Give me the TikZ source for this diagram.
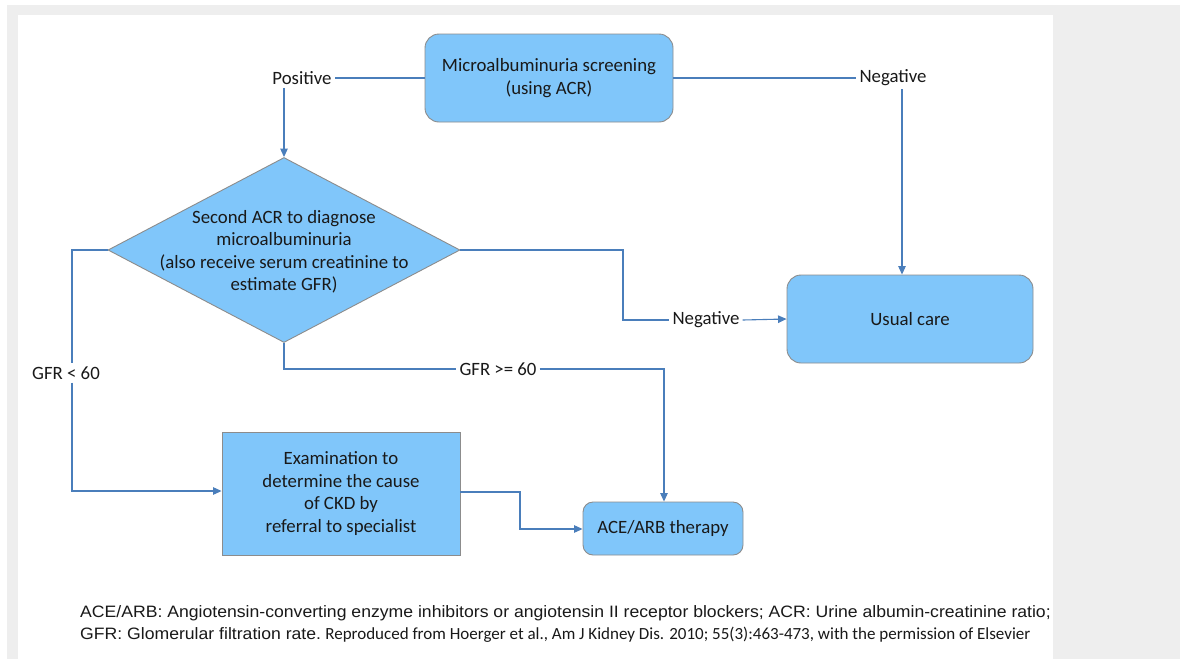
\documentclass[tikz,border=0pt]{standalone}
\usepackage{fontspec}
\usepackage{graphicx}
\setmainfont{Carlito}
\newfontfamily\arialf{Liberation Sans}
\usetikzlibrary{shapes.geometric,arrows.meta}
\definecolor{boxfill}{RGB}{128,198,250}
\definecolor{boxline}{RGB}{140,140,140}
\definecolor{conncol}{RGB}{74,126,187}
\definecolor{bggray}{RGB}{238,238,238}
\definecolor{txt}{RGB}{25,25,25}
\begin{document}
\begin{tikzpicture}[x=1pt,y=-1pt,
  box/.style={draw=boxline, fill=boxfill, line width=0.9pt, text=txt, align=center,
    font=\fontsize{18.8}{22.5}\selectfont, inner sep=0pt},
  rbox/.style={box, rounded corners=14pt},
  lbl/.style={text=txt, font=\fontsize{18.8}{22.5}\selectfont, inner sep=3pt},
  conn/.style={draw=conncol, line width=1.1pt},
  arr/.style={conn, -{Triangle[length=8.5pt,width=7.5pt]}}]
% background
\fill[white] (0,0) rectangle (1185,659);
\fill[bggray] (7,5) rectangle (1180,659);
\fill[white] (18,15) rectangle (1053,659);
\useasboundingbox (0,0) rectangle (1185,659);

% nodes
\node[rbox, minimum width=248pt, minimum height=88pt] (screen) at (549,78)
  {Microalbuminuria screening\\(using ACR)};
\node[box, diamond, minimum width=352pt, minimum height=185pt] (dia) at (284,250) {};
\node[text=txt, align=center, font=\fontsize{18.8}{22.5}\selectfont, inner sep=0pt] (diatext) at (284,252)
  {Second ACR to diagnose\\microalbuminuria\\(also receive serum creatinine to\\estimate GFR)};
\node[rbox, minimum width=246pt, minimum height=88pt] (usual) at (910,319) {Usual care};
\node[box, minimum width=238pt, minimum height=123pt] (exam) at (341,493.5)
  {Examination to\\determine the cause\\of CKD by\\referral to specialist};
\node[rbox, rounded corners=10pt, minimum width=160pt, minimum height=53pt] (ace) at (663,528.5)
  {ACE/ARB therapy};

% labels
\node[lbl] (pos) at (302,78) {Positive};
\node[lbl] (neg1) at (893,78) {Negative};
\node[lbl] (neg2) at (706,320) {Negative};
\node[lbl] (gfrhi) at (498,369) {GFR >= 60};
\node[lbl] (gfrlo) at (66,373) {GFR < 60};

\coordinate (c1) at (623,250);
\coordinate (c2) at (623,320);
\coordinate (c3) at (284,369);
\coordinate (c4) at (664,369);
\coordinate (c5) at (72,250);
\coordinate (c6) at (72,491);
\coordinate (c7) at (520,492);
\coordinate (c8) at (520,529);
\coordinate (c9) at (902,89);

% connectors
\draw[conn] (screen.west) -- (pos.east);
\draw[arr] (pos.south -| dia.north) -- (dia.north);
\draw[conn] (screen.east) -- (neg1.west);
\draw[arr] (c9) -- (c9 |- usual.north);
\draw[conn] (dia.east) -- (c1) -- (c2) -- (neg2.west);
\draw[arr] (neg2.east) -- (usual.west);
\draw[conn] (dia.south) -- (c3) -- (gfrhi.west);
\draw[arr] (gfrhi.east) -- (c4) -- (c4 |- ace.north);
\draw[conn] (dia.west) -- (c5) -- (c5 |- gfrlo.north);
\draw[arr] (c5 |- gfrlo.south) -- (c6) -- (exam.west |- c6);
\draw[arr] (exam.east |- c7) -- (c7) -- (c8) -- (ace.west |- c8);

% footnote
\node[anchor=base west, inner sep=0pt, text=txt, font=\arialf\fontsize{16.5}{18}\selectfont] (fn1) at (80,617)
  {\scalebox{1.068}[1]{ACE/ARB: Angiotensin-converting enzyme inhibitors or angiotensin II receptor blockers; ACR: Urine albumin-creatinine ratio;}};
\node[anchor=base west, inner sep=0pt, text=txt, font=\arialf\fontsize{16.5}{18}\selectfont] (fn2) at (80,639)
  {\scalebox{1.068}[1]{GFR: Glomerular filtration rate.}};
\node[anchor=base west, inner sep=0pt, text=txt, font=\fontsize{17}{18}\selectfont] (fn3) at (fn2.base east)
  {\ Reproduced from Hoerger et al., Am J Kidney Dis. 2010; 55(3):463-473, with the permission of Elsevier};
\end{tikzpicture}
\end{document}
